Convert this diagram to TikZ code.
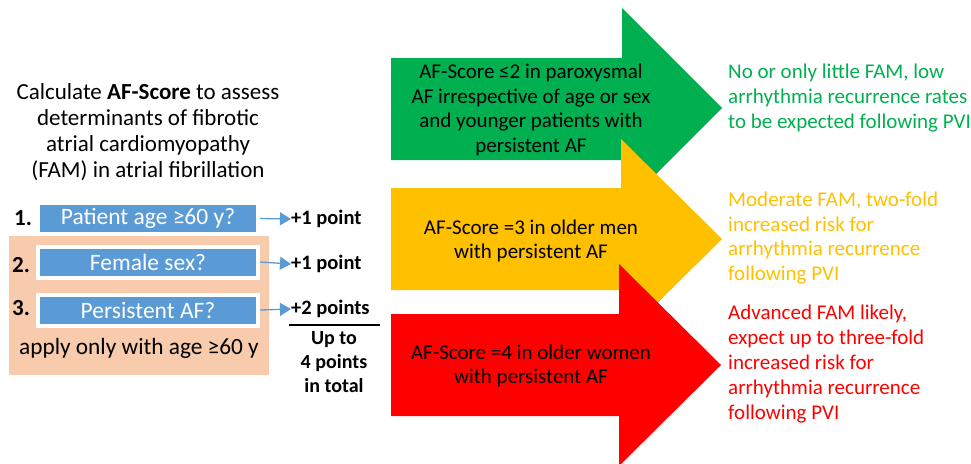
\documentclass[tikz,border=0pt]{standalone}
\usepackage{fontspec}
\setmainfont{Carlito}
\usetikzlibrary{arrows.meta}
\definecolor{fgreen}{HTML}{00B050}
\definecolor{fyellow}{HTML}{FFC000}
\definecolor{fred}{HTML}{FF0000}
\definecolor{fblue}{HTML}{5B9BD5}
\definecolor{fpeach}{HTML}{F8CBAD}
\begin{document}
\begin{tikzpicture}[x=1pt,y=-1pt,
  txt/.style={font=\fontsize{21}{24.5}\selectfont, inner sep=0pt, align=center},
  rtxt/.style={font=\fontsize{21}{24.8}\selectfont, inner sep=0pt, align=left, anchor=west},
  qbox/.style={fill=fblue, minimum width=216pt, minimum height=27pt, inner sep=0pt, text=white, font=\fontsize{23.5}{24}\selectfont},
  wframe/.style={fill=white, minimum width=224pt, minimum height=35pt, inner sep=0pt},
  num/.style={font=\bfseries\fontsize{23}{24}\selectfont, inner sep=0pt},
  pts/.style={font=\bfseries\fontsize{20.5}{24}\selectfont, inner sep=0pt, anchor=west},
  conn/.style={fblue, line width=1.3pt, -{Triangle[length=11pt,width=13pt]}}
]
\useasboundingbox (0,0) rectangle (971,463);

% big arrows
\fill[fgreen] (391,58) -- (622,58) -- (622,8) -- (722,108) -- (622,208) -- (622,160) -- (391,160) -- cycle;
\fill[fyellow] (391,188) -- (621,188) -- (621,139) -- (722,239) -- (621,339) -- (621,290) -- (391,290) -- cycle;
\fill[fred] (391,314) -- (619,314) -- (619,264) -- (721,365) -- (619,466) -- (619,416) -- (391,416) -- cycle;

\node[txt] (g) at (531,110) {AF-Score ≤2 in paroxysmal\\AF irrespective of age or sex\\and younger patients with\\persistent AF};
\node[txt] (y) at (531,241) {AF-Score =3 in older men\\with persistent AF};
\node[txt] (r) at (531,366) {AF-Score =4 in older women\\with persistent AF};

\node[rtxt, text=fgreen] (gr) at (728,98) {No or only little FAM, low\\arrhythmia recurrence rates\\to be expected following PVI};
\node[rtxt, text=fyellow] (yr) at (728,238) {Moderate FAM, two-fold\\increased risk for\\arrhythmia recurrence\\following PVI};
\node[rtxt, text=fred] (rr) at (728,364) {Advanced FAM likely,\\expect up to three-fold\\increased risk for\\arrhythmia recurrence\\following PVI};

% left title
\node[font=\fontsize{23}{26}\selectfont, align=center, inner sep=0pt] (title) at (148,132)
  {Calculate \textbf{AF-Score} to assess\\determinants of fibrotic\\atrial cardiomyopathy\\(FAM) in atrial fibrillation};

% peach panel
\fill[fpeach] (9,236) rectangle (269,375);
\node[wframe] (w2) at (148,262) {};
\node[wframe] (w3) at (148,310) {};

\node[qbox] (q1) at (148,218.5) {Patient age ≥60 y?};
\node[qbox] (q2) at (148,262) {Female sex?};
\node[qbox] (q3) at (148,310) {Persistent AF?};

\node[num] (n1) at (23,218) {1.};
\node[num] (n2) at (21,265) {2.};
\node[num] (n3) at (21,308) {3.};

\node[font=\fontsize{23.3}{24}\selectfont, inner sep=0pt] (apply) at (139,348) {apply only with age ≥60 y};

\node[pts] (p1) at (291,219) {+1 point};
\node[pts] (p2) at (291,264) {+1 point};
\node[pts] (p3) at (291,309) {+2 points};

\draw[conn] (w2.east |- q1.east) -- (p1.west);
\draw[conn] (w2.east) -- (p2.west);
\draw[conn] (w3.east) -- (p3.west);

\coordinate (la) at (289,325);
\coordinate (lb) at (380,325);
\draw[line width=1.5pt] (la) -- (lb);
\node[font=\bfseries\fontsize{20}{24}\selectfont, align=center, inner sep=0pt] (tot) at (334,362) {Up to\\4 points\\in total};
\end{tikzpicture}
\end{document}
